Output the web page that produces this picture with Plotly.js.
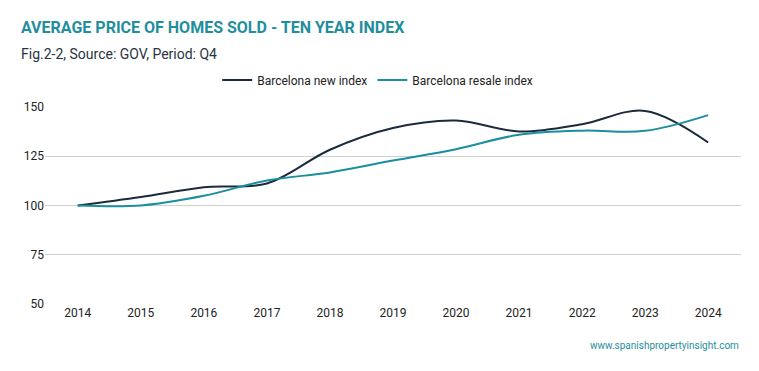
<!DOCTYPE html>
<html><head><meta charset="utf-8">
<script src="https://cdn.plot.ly/plotly-3.0.1.min.js"></script>
<style>html,body{margin:0;padding:0;background:#fff}</style>
</head><body><div id="c" style="width:759px;height:371px"></div>
<script>
const years = [2014,2015,2016,2017,2018,2019,2020,2021,2022,2023,2024];
const newIndex = [100,104.3,109.3,111.2,128.3,139.3,143.1,137.6,141.3,148,132];
const resaleIndex = [100,100,104.9,112.7,116.8,122.8,128.6,135.9,138,137.9,145.9];
const yTicks = [50,75,100,125,150];

const traces = [
  {x: years, y: newIndex, name: 'Barcelona new index', mode: 'lines',
   line: {color: '#1b2b3c', width: 2, shape: 'spline', smoothing: 1}},
  {x: years, y: resaleIndex, name: 'Barcelona resale index', mode: 'lines',
   line: {color: '#1b8e9f', width: 2, shape: 'spline', smoothing: 1}}
];
const layout = {
  width: 759, height: 371,
  margin: {l: 45, r: 18, t: 107, b: 67},
  paper_bgcolor: '#fff', plot_bgcolor: '#fff',
  font: {family: 'Roboto, sans-serif', color: '#222', size: 12},
  showlegend: true,
  legend: {orientation: 'h', x: 0.478, xanchor: 'center', y: 1.137, yanchor: 'middle',
           font: {size: 12, color: '#222'}, itemwidth: 30},
  xaxis: {range: [2013.48, 2024.52], tickvals: years, ticktext: years.map(String),
          showgrid: false, zeroline: false, showline: false, ticks: '',
          tickfont: {size: 12, color: '#222'}, fixedrange: true},
  yaxis: {range: [50, 150], tickvals: yTicks, showgrid: true, gridcolor: '#d0d0d0',
          gridwidth: 1, zeroline: false, showline: false, ticks: '',
          tickfont: {size: 12, color: '#222'}, fixedrange: true},
  annotations: [
    {text: '<b>AVERAGE PRICE OF HOMES SOLD - TEN YEAR INDEX</b>', xref: 'paper', yref: 'paper',
     x: -0.0374, y: 1.406, xanchor: 'left', yanchor: 'middle', showarrow: false,
     font: {size: 16, color: '#1f8e9d', family: 'Roboto, sans-serif'}},
    {text: 'Fig.2-2, Source: GOV, Period: Q4', xref: 'paper', yref: 'paper',
     x: -0.0374, y: 1.269, xanchor: 'left', yanchor: 'middle', showarrow: false,
     font: {size: 14, color: '#2a3440', family: 'Roboto, sans-serif'}},
    {text: 'www.spanishpropertyinsight.com', xref: 'paper', yref: 'paper',
     x: 1.0, y: -0.213, xanchor: 'right', yanchor: 'middle', showarrow: false,
     font: {size: 10, color: '#1f8e9d', family: 'Roboto, sans-serif'}}
  ]
};
Plotly.newPlot('c', traces, layout, {displayModeBar: false, staticPlot: true});
</script></body></html>
